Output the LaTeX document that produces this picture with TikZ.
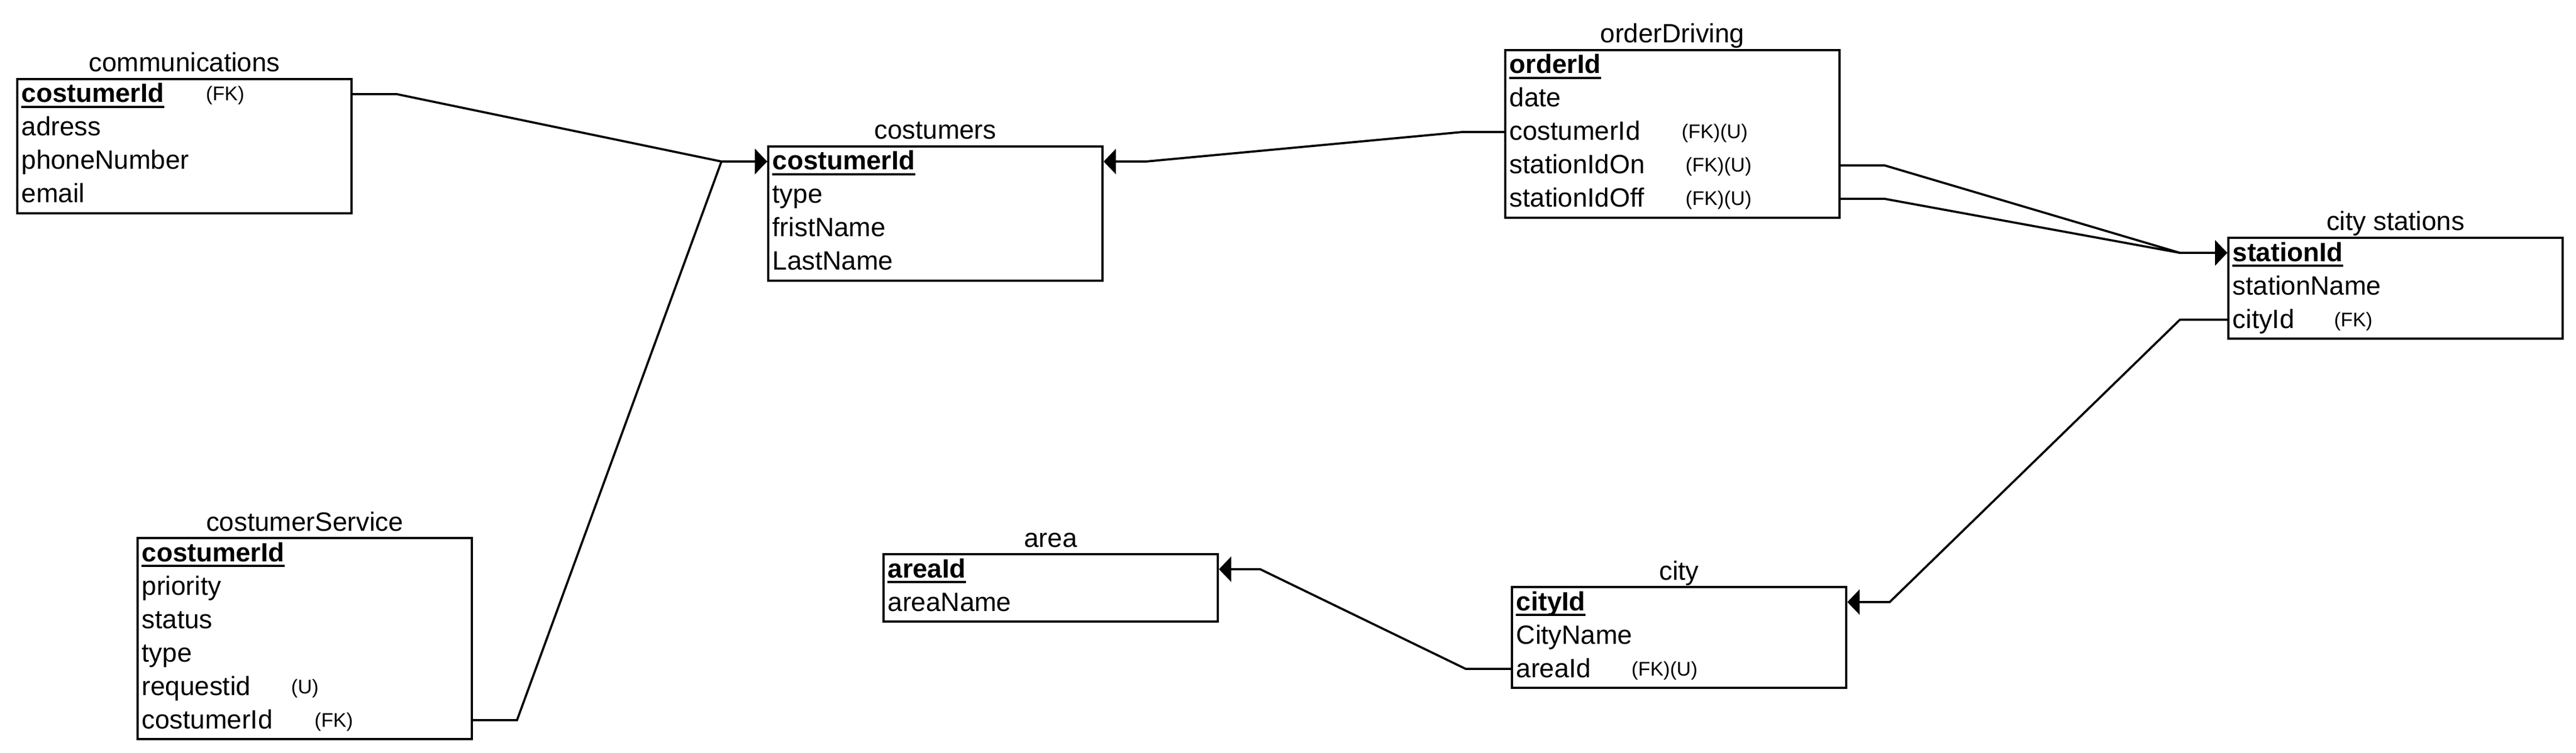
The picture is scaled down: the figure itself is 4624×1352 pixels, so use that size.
\documentclass[tikz,border=0pt]{standalone}
\usepackage{fontspec}
\setmainfont{Liberation Sans}
\usetikzlibrary{arrows.meta,calc}
\newcommand\mainsz{\fontsize{13.5pt}{16pt}\selectfont}
\newcommand\notesz{\fontsize{10.1pt}{12pt}\selectfont}
\begin{document}
\begin{tikzpicture}[x=0.01cm,y=-0.01cm,
  tbl/.style={draw, line width=1.05pt, minimum width=6cm, inner sep=0pt, anchor=north west},
  ttl/.style={font=\mainsz, anchor=base, inner sep=0pt},
  fld/.style={font=\mainsz, anchor=base west, inner sep=0pt},
  pk/.style={font=\mainsz\bfseries, anchor=base west, inner sep=0pt},
  note/.style={font=\notesz, anchor=base west, inner sep=0pt},
  ul/.style={line width=1pt},
  link/.style={line width=1.1pt, -{Triangle[length=0.22cm,width=0.45cm]}}]
\useasboundingbox (0,0) rectangle (4624,1352);

% ---------- communications ----------
\node[tbl, minimum height=2.41cm] (comm) at (29,140) {};
\node[ttl] (commT) at ($(comm.north)+(0,-11)$) {communications};
\node[pk]  (comm0) at ($(comm.north west)+(9,44)$) {costumerId};
\draw[ul] ($(comm0.base west)+(0,8)$) -- ($(comm0.base east)+(0,8)$);
\node[note] (comm0n) at ($(comm.north west)+(340,41)$) {(FK)};
\node[fld] (comm1) at ($(comm.north west)+(9,104)$) {adress};
\node[fld] (comm2) at ($(comm.north west)+(9,164)$) {phoneNumber};
\node[fld] (comm3) at ($(comm.north west)+(9,224)$) {email};

% ---------- costumers ----------
\node[tbl, minimum height=2.41cm] (cust) at (1377,261) {};
\node[ttl] (custT) at ($(cust.north)+(0,-11)$) {costumers};
\node[pk]  (cust0) at ($(cust.north west)+(9,44)$) {costumerId};
\draw[ul] ($(cust0.base west)+(0,8)$) -- ($(cust0.base east)+(0,8)$);
\node[fld] (cust1) at ($(cust.north west)+(9,104)$) {type};
\node[fld] (cust2) at ($(cust.north west)+(9,164)$) {fristName};
\node[fld] (cust3) at ($(cust.north west)+(9,224)$) {LastName};

% ---------- orderDriving ----------
\node[tbl, minimum height=3.01cm] (ord) at (2700,88) {};
\node[ttl] (ordT) at ($(ord.north)+(0,-11)$) {orderDriving};
\node[pk]  (ord0) at ($(ord.north west)+(9,44)$) {orderId};
\draw[ul] ($(ord0.base west)+(0,8)$) -- ($(ord0.base east)+(0,8)$);
\node[fld] (ord1) at ($(ord.north west)+(9,104)$) {date};
\node[fld] (ord2) at ($(ord.north west)+(9,164)$) {costumerId};
\node[note] (ord2n) at ($(ord.north west)+(318,161)$) {(FK)(U)};
\node[fld] (ord3) at ($(ord.north west)+(9,224)$) {stationIdOn};
\node[note] (ord3n) at ($(ord.north west)+(325,221)$) {(FK)(U)};
\node[fld] (ord4) at ($(ord.north west)+(9,284)$) {stationIdOff};
\node[note] (ord4n) at ($(ord.north west)+(325,281)$) {(FK)(U)};

% ---------- city stations ----------
\node[tbl, minimum height=1.81cm] (stat) at (3998,425) {};
\node[ttl] (statT) at ($(stat.north)+(0,-11)$) {city stations};
\node[pk]  (stat0) at ($(stat.north west)+(9,44)$) {stationId};
\draw[ul] ($(stat0.base west)+(0,8)$) -- ($(stat0.base east)+(0,8)$);
\node[fld] (stat1) at ($(stat.north west)+(9,104)$) {stationName};
\node[fld] (stat2) at ($(stat.north west)+(9,164)$) {cityId};
\node[note] (stat2n) at ($(stat.north west)+(191,161)$) {(FK)};

% ---------- costumerService ----------
\node[tbl, minimum height=3.61cm] (serv) at (245,964) {};
\node[ttl] (servT) at ($(serv.north)+(0,-11)$) {costumerService};
\node[pk]  (serv0) at ($(serv.north west)+(9,44)$) {costumerId};
\draw[ul] ($(serv0.base west)+(0,8)$) -- ($(serv0.base east)+(0,8)$);
\node[fld] (serv1) at ($(serv.north west)+(9,104)$) {priority};
\node[fld] (serv2) at ($(serv.north west)+(9,164)$) {status};
\node[fld] (serv3) at ($(serv.north west)+(9,224)$) {type};
\node[fld] (serv4) at ($(serv.north west)+(9,284)$) {requestid};
\node[note] (serv4n) at ($(serv.north west)+(277,281)$) {(U)};
\node[fld] (serv5) at ($(serv.north west)+(9,344)$) {costumerId};
\node[note] (serv5n) at ($(serv.north west)+(319,341)$) {(FK)};

% ---------- area ----------
\node[tbl, minimum height=1.21cm] (area) at (1584,993) {};
\node[ttl] (areaT) at ($(area.north)+(0,-11)$) {area};
\node[pk]  (area0) at ($(area.north west)+(9,44)$) {areaId};
\draw[ul] ($(area0.base west)+(0,8)$) -- ($(area0.base east)+(0,8)$);
\node[fld] (area1) at ($(area.north west)+(9,104)$) {areaName};

% ---------- city ----------
\node[tbl, minimum height=1.81cm] (city) at (2712,1052) {};
\node[ttl] (cityT) at ($(city.north)+(0,-11)$) {city};
\node[pk]  (city0) at ($(city.north west)+(9,44)$) {cityId};
\draw[ul] ($(city0.base west)+(0,8)$) -- ($(city0.base east)+(0,8)$);
\node[fld] (city1) at ($(city.north west)+(9,104)$) {CityName};
\node[fld] (city2) at ($(city.north west)+(9,164)$) {areaId};
\node[note] (city2n) at ($(city.north west)+(216,161)$) {(FK)(U)};

% ---------- connectors ----------
\coordinate (j1) at (1295,290);
\coordinate (j2) at (2057,290);
\coordinate (j3) at (3913,454);
\coordinate (j4) at (3392,1081);
\coordinate (j5) at (2262,1022);

\draw[link] ($(comm.north east)+(0,29)$) -- ++(79,0) -- (j1) -- ($(cust.north west)+(0,29)$);
\draw[link] ($(serv.north east)+(0,329)$) -- ++(79,0) -- (j1) -- ($(cust.north west)+(0,29)$);
\draw[link] ($(ord.north west)+(0,149)$) -- ++(-75,0) -- (j2) -- ($(cust.north east)+(0,29)$);
\draw[link] ($(ord.north east)+(0,209)$) -- ++(79,0) -- (j3) -- ($(stat.north west)+(0,29)$);
\draw[link] ($(ord.north east)+(0,269)$) -- ++(79,0) -- (j3) -- ($(stat.north west)+(0,29)$);
\draw[link] ($(stat.north west)+(0,149)$) -- ++(-85,0) -- (j4) -- ($(city.north east)+(0,29)$);
\draw[link] ($(city.north west)+(0,149)$) -- ++(-81,0) -- (j5) -- ($(area.north east)+(0,29)$);
\end{tikzpicture}
\end{document}
